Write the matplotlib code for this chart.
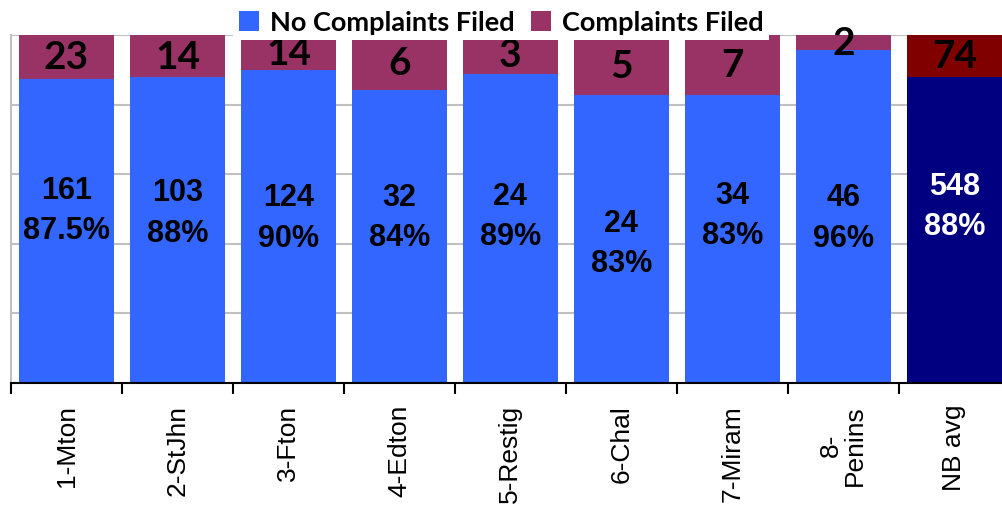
import numpy as np
import matplotlib.pyplot as plt

# data
regions = ["1-Mton", "2-StJhn", "3-Fton", "4-Edton", "5-Restig",
           "6-Chal", "7-Miram", "8-\nPenins", "NB avg"]
no_complaints = [161, 103, 124, 32, 24, 24, 34, 46, 548]
complaints = [23, 14, 14, 6, 3, 5, 7, 2, 74]
pct_labels = ["87.5%", "88%", "90%", "84%", "89%", "83%", "83%", "96%", "88%"]

# label placement inside blue part (percent of axis height)
label_y = [49.7, 49, 47.6, 47.7, 48, 40.2, 48.4, 47.6, 50.9]

no_c = np.array(no_complaints, dtype=float)
yes_c = np.array(complaints, dtype=float)
tot = no_c + yes_c
no_pct = no_c / tot * 100
yes_pct = yes_c / tot * 100

blue = ["#3366FF"] * 8 + ["#000080"]
red = ["#993366"] * 8 + ["#800000"]

fig = plt.figure(figsize=(10.02, 5.10), dpi=100)
ax = fig.add_axes([0.011, 0.247, 0.989, 0.682])

x = np.arange(len(regions))
b1 = ax.bar(x, no_pct, width=0.855, color=blue, zorder=2, label="No Complaints Filed")
b2 = ax.bar(x, yes_pct, bottom=no_pct, width=0.855, color=red, zorder=2, label="Complaints Filed")

ax.bar_label(b2, labels=[str(v) for v in complaints], label_type="center",
             fontsize=28, fontweight="bold", family="Lato", color="black")

for i in range(len(regions)):
    c = "white" if i == len(regions) - 1 else "black"
    ax.text(x[i], label_y[i], f"{no_complaints[i]}\n{pct_labels[i]}", ha="center", va="center",
            fontsize=22, fontweight="bold", family="Liberation Sans", color=c,
            linespacing=1.45, zorder=3)

ax.set_xlim(-0.5, len(regions) - 0.57)
ax.set_ylim(0, 100)
ax.set_yticks([0, 20, 40, 60, 80, 100])
ax.yaxis.grid(True, color="#C0C0C0", lw=1.5, zorder=0)
ax.tick_params(axis="y", length=0, labelleft=False)

ax.set_xticks(x)
ax.set_xticklabels(regions, rotation=90, fontsize=19, family="Liberation Sans", linespacing=1.0)
ax.set_xticks(np.arange(-0.5, len(regions) - 0.5, 1), minor=True)
ax.tick_params(axis="x", which="major", length=0, pad=15)
ax.tick_params(axis="x", which="minor", length=8, width=1.5, color="black", direction="out")

for s in ["top", "right"]:
    ax.spines[s].set_visible(False)
ax.spines["left"].set_color("#C0C0C0")
ax.spines["left"].set_linewidth(1.5)
ax.spines["bottom"].set_linewidth(1.5)

leg = fig.legend(loc="upper center", bbox_to_anchor=(0.5, 1.015), ncol=2, frameon=True,
                 fancybox=False, edgecolor="none", framealpha=1,
                 prop={"family": "Lato", "weight": "bold", "size": 19.5},
                 handlelength=0.75, handleheight=0.75, handletextpad=0.4, columnspacing=0.6,
                 borderpad=0.2)

fig.savefig("out.png", dpi=100)
